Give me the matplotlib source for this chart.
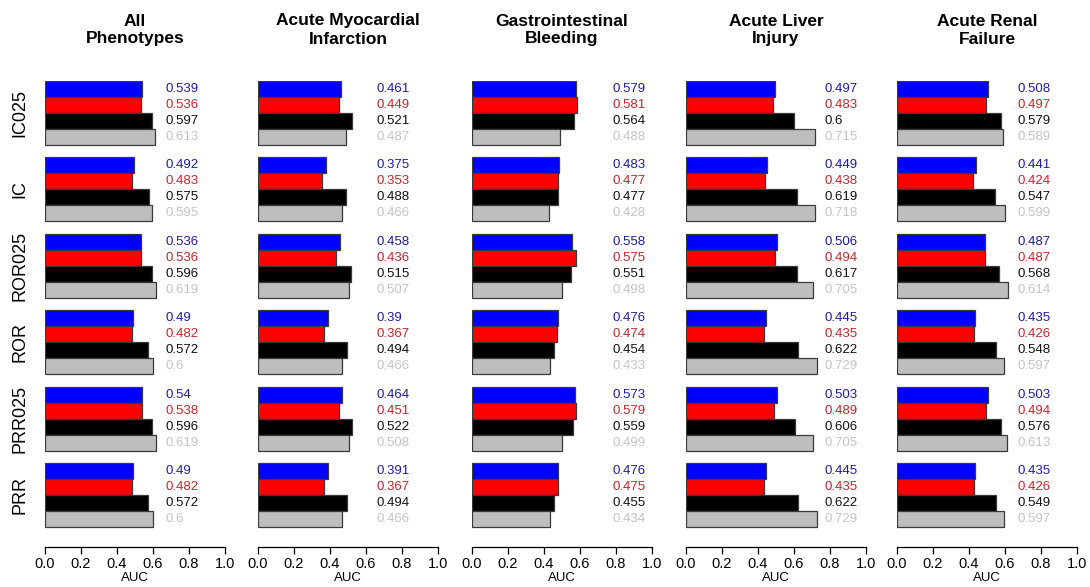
import matplotlib

matplotlib.use("Agg")
import matplotlib.pyplot as plt

plt.rcParams["font.family"] = ["Liberation Sans", "DejaVu Sans"]

phenotypes = ["All\nPhenotypes", "Acute Myocardial\nInfarction", "Gastrointestinal\nBleeding",
              "Acute Liver\nInjury", "Acute Renal\nFailure"]
methods = ["IC025", "IC", "ROR025", "ROR", "PRR025", "PRR"]

# one list per phenotype, one value per method
blue_auc = [
    [0.539, 0.492, 0.536, 0.49, 0.54, 0.49],
    [0.461, 0.375, 0.458, 0.39, 0.464, 0.391],
    [0.579, 0.483, 0.558, 0.476, 0.573, 0.476],
    [0.497, 0.449, 0.506, 0.445, 0.503, 0.445],
    [0.508, 0.441, 0.487, 0.435, 0.503, 0.435],
]
red_auc = [
    [0.536, 0.483, 0.536, 0.482, 0.538, 0.482],
    [0.449, 0.353, 0.436, 0.367, 0.451, 0.367],
    [0.581, 0.477, 0.575, 0.474, 0.579, 0.475],
    [0.483, 0.438, 0.494, 0.435, 0.489, 0.435],
    [0.497, 0.424, 0.487, 0.426, 0.494, 0.426],
]
black_auc = [
    [0.597, 0.575, 0.596, 0.572, 0.596, 0.572],
    [0.521, 0.488, 0.515, 0.494, 0.522, 0.494],
    [0.564, 0.477, 0.551, 0.454, 0.559, 0.455],
    [0.6, 0.619, 0.617, 0.622, 0.606, 0.622],
    [0.579, 0.547, 0.568, 0.548, 0.576, 0.549],
]
gray_auc = [
    [0.613, 0.595, 0.619, 0.6, 0.619, 0.6],
    [0.487, 0.466, 0.507, 0.466, 0.508, 0.466],
    [0.488, 0.428, 0.498, 0.433, 0.499, 0.434],
    [0.715, 0.718, 0.705, 0.729, 0.705, 0.729],
    [0.589, 0.599, 0.614, 0.597, 0.613, 0.597],
]

series = [blue_auc, red_auc, black_auc, gray_auc]
bar_colors = ["#0000FF", "#FF0000", "#000000", "#BEBEBE"]
text_colors = ["#1E1E9E", "#C0282D", "#111111", "#C4C4C4"]

W, H = 1090, 587
col_left = [45, 258, 472, 686, 897]
label_x = [0.67, 0.66, 0.78, 0.77, 0.67]
group_step = 4.78
ax_top, ax_bottom = 81, 547

fig = plt.figure(figsize=(W / 100, H / 100), dpi=100)

for c, name in enumerate(phenotypes):
    ax = fig.add_axes([col_left[c] / W, 1 - ax_bottom / H, 180 / W, (ax_bottom - ax_top) / H])
    for g in range(len(methods)):
        for j, vals in enumerate(series):
            y = -(g * group_step + j)
            v = vals[c][g]
            ax.barh(y, v, height=1.0, left=0, color=bar_colors[j],
                    edgecolor="#3a3a3a", linewidth=0.9)
            ax.text(label_x[c], y, f"{v:g}", color=text_colors[j], fontsize=9.5,
                    va="center", ha="left", clip_on=False)
    ax.set_xlim(0, 1)
    ax.set_ylim(-28.65, 0.5)
    for s in ["top", "right", "left"]:
        ax.spines[s].set_visible(False)
    ax.spines["bottom"].set_linewidth(0.9)
    ax.set_yticks([])
    ax.set_xticks([0, 0.2, 0.4, 0.6, 0.8, 1.0])
    ax.set_xticklabels(["0.0", "0.2", "0.4", "0.6", "0.8", "1.0"], fontsize=10.5)
    ax.tick_params(axis="x", length=5, width=0.9, pad=2)
    ax.set_xlabel("AUC", fontsize=9.5, labelpad=1)
    ax.set_title(name, fontsize=12.5, fontweight="bold", pad=27, linespacing=1.25)

for g, m in enumerate(methods):
    yc = ax_top + (g * group_step + 1.5) * 16 + 8
    fig.text(20 / W, 1 - yc / H, m, rotation=90, fontsize=13, ha="center", va="center")

fig.savefig("out.png", dpi=100)
